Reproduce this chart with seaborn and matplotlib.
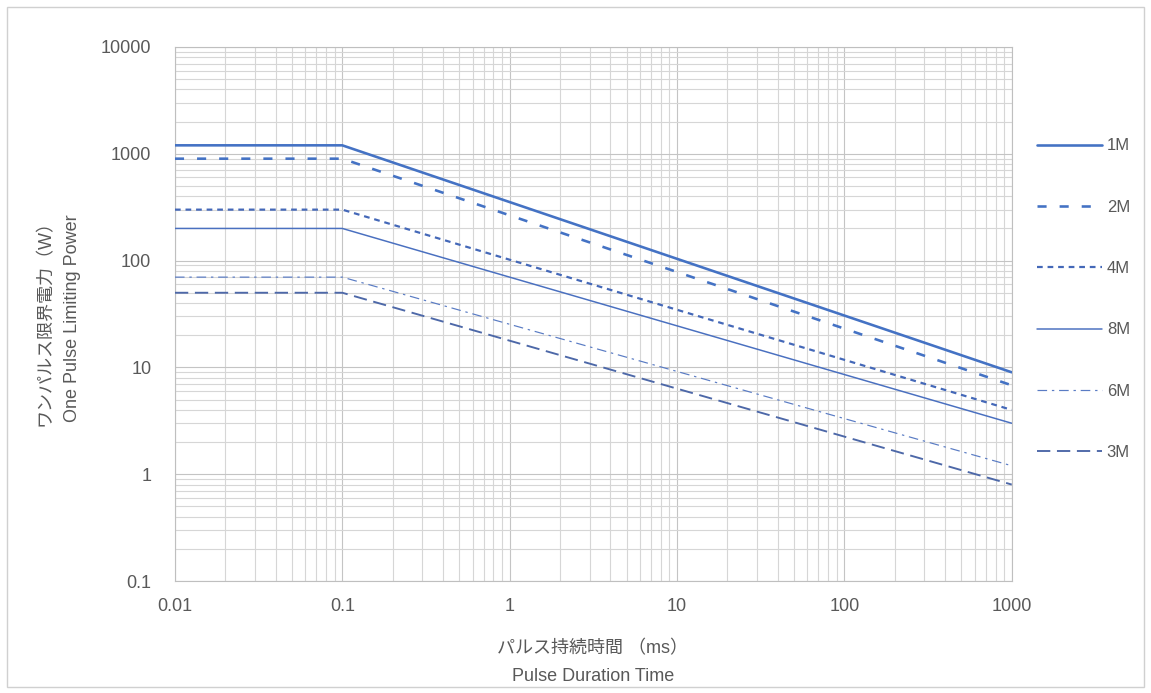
import matplotlib
matplotlib.use("Agg")
import matplotlib.pyplot as plt
import seaborn as sns
import pandas as pd
from matplotlib.patches import Rectangle

# pulse duration (ms) where each curve is read: start, knee, end
duration = [0.01, 0.1, 1000]

series = ['1M', '2M', '4M', '8M', '6M', '3M']
p_1M = [1200, 1200, 9]
p_2M = [900, 900, 6.8]
p_4M = [300, 300, 4]
p_8M = [200, 200, 3]
p_6M = [70, 70, 1.2]
p_3M = [50, 50, 0.8]

x_ticks = [0.01, 0.1, 1, 10, 100, 1000]
x_tick_labels = ['0.01', '0.1', '1', '10', '100', '1000']
y_ticks = [0.1, 1, 10, 100, 1000, 10000]
y_tick_labels = ['0.1', '1', '10', '100', '1000', '10000']

values = dict(zip(series, [p_1M, p_2M, p_4M, p_8M, p_6M, p_3M]))
df = pd.DataFrame([(s, t, v) for s in series for t, v in zip(duration, values[s])],
                  columns=['series', 'duration', 'power'])

sns.set_style('white')
plt.rcParams['font.family'] = ['Liberation Sans', 'Noto Sans CJK JP']

txt = '#595959'
styles = {
    '1M': dict(color='#4472C4', lw=2.6, ls='-'),
    '2M': dict(color='#4472C4', lw=2.6, ls=(0, (3.5, 5.0))),
    '4M': dict(color='#4468b8', lw=2.2, ls=(0, (2.6, 2.2))),
    '8M': dict(color='#4a70c0', lw=1.5, ls='-'),
    '6M': dict(color='#5a7cc4', lw=1.2, ls=(0, (8, 4, 2, 4))),
    '3M': dict(color='#4d68a8', lw=1.9, ls=(0, (7, 3.5))),
}

fig = plt.figure(figsize=(11.51, 6.93), dpi=100)
ax = fig.add_axes([0.152, 0.1616, 0.727, 0.7706])

for s in series:
    st = styles[s]
    sns.lineplot(data=df[df.series == s], x='duration', y='power', ax=ax,
                 color=st['color'], linewidth=st['lw'] * 0.72, linestyle=st['ls'],
                 label=s, zorder=3)

ax.set_xscale('log')
ax.set_yscale('log')
ax.set_xlim(0.01, 1000)
ax.set_ylim(0.1, 10000)
ax.set_xticks(x_ticks, x_tick_labels)
ax.set_yticks(y_ticks, y_tick_labels)
ax.tick_params(which='both', length=0, labelsize=13, labelcolor=txt)
ax.tick_params(axis='x', pad=12)
ax.tick_params(axis='y', pad=17)
ax.grid(which='major', color='#c4c4c4', lw=0.8)
ax.grid(which='minor', color='#d6d6d6', lw=0.8)
for sp in ax.spines.values():
    sp.set_color('#bfbfbf')
    sp.set_linewidth(0.8)
ax.set_xlabel('')
ax.set_ylabel('')

fig.text(0.039, 0.541, 'ワンパルス限界電力（W）', rotation=90, ha='center', va='center',
         fontsize=13, color=txt)
fig.text(0.063, 0.541, 'One Pulse Limiting Power', rotation=90, ha='center', va='center',
         fontsize=13, color=txt)
fig.text(0.515, 0.064, 'パルス持続時間 （ms）', ha='center', va='center', fontsize=13, color=txt)
fig.text(0.515, 0.024, 'Pulse Duration Time', ha='center', va='center', fontsize=13, color=txt)

leg = ax.legend(loc='upper left', bbox_to_anchor=(0.895, 0.81), bbox_transform=fig.transFigure,
                frameon=False, fontsize=12, labelspacing=2.78, handlelength=3.9,
                handletextpad=0.3, borderaxespad=0)
for t in leg.get_texts():
    t.set_color(txt)

fig.patches.append(Rectangle((0.006, 0.008), 0.988, 0.982, transform=fig.transFigure,
                             fill=False, edgecolor='#d0d0d0', lw=1))

fig.savefig('out.png', dpi=100)
